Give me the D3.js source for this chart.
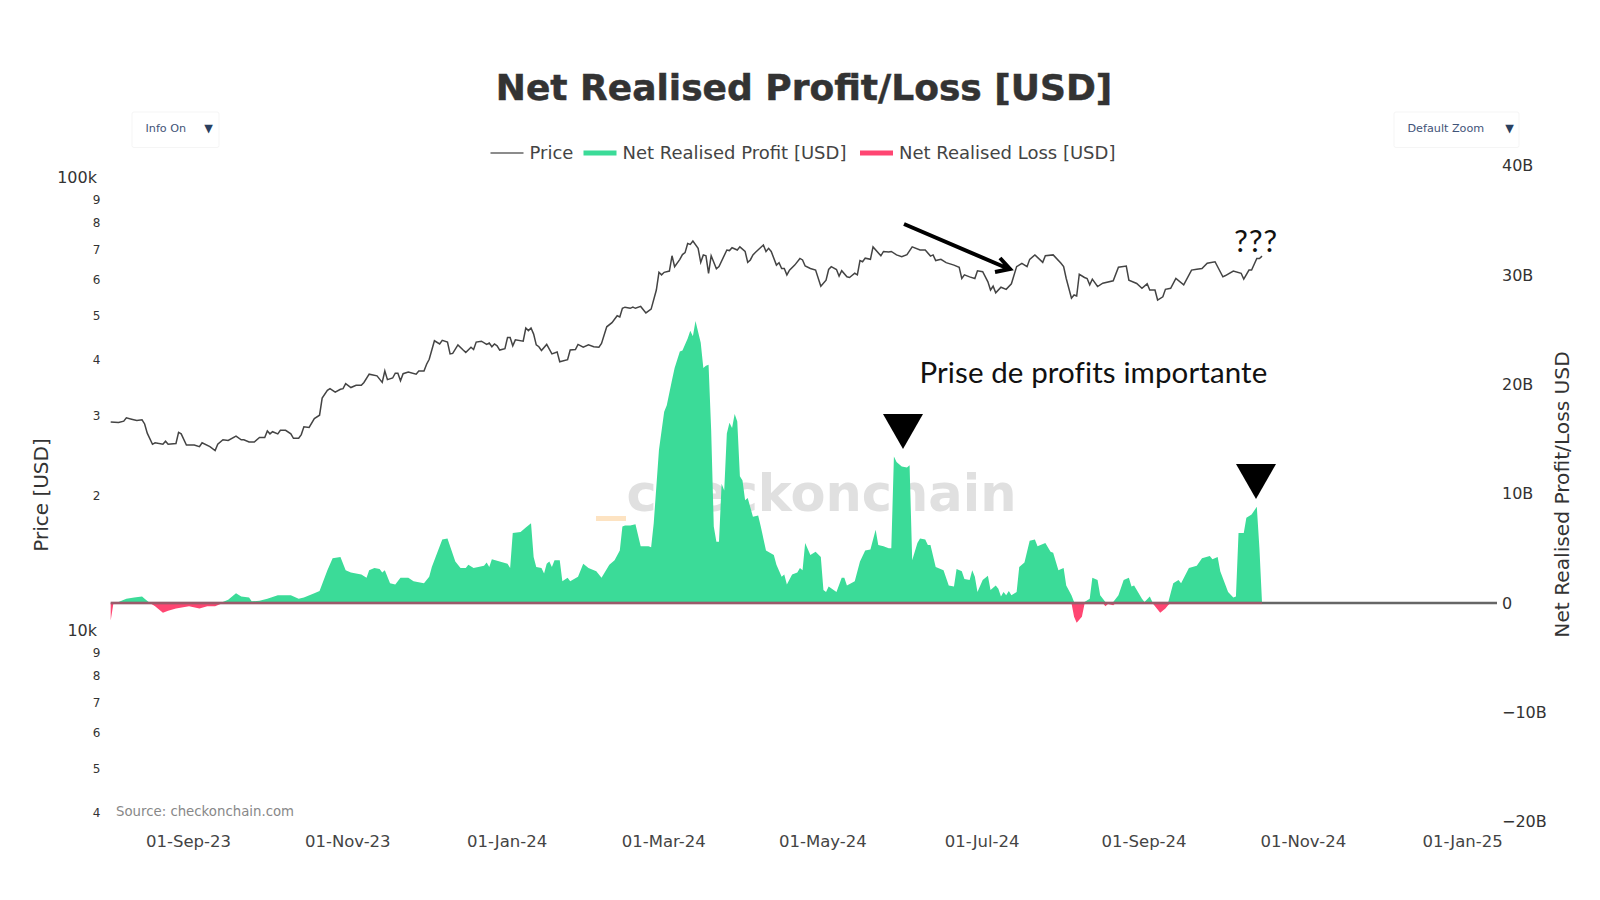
<!DOCTYPE html>
<html>
<head>
<meta charset="utf-8">
<script src="https://cdn.jsdelivr.net/npm/d3@7"></script>
<style>
body { margin: 0; background: #fff; }
text { font-family: "DejaVu Sans", sans-serif; }
</style>
</head>
<body>
<div id="chart"></div>
<script>
// days are counted from the first day of the series
var startDate = new Date(Date.UTC(2023, 7, 2));
var endDate = new Date(Date.UTC(2025, 0, 14));

var priceDays = [0,3,5,6,8,10,12,13,14,16,17,20,21,22,25,26,27,29,32,34,35,38,40,41,43,45,48,50,51,53,55,57,59,60,61,62,64,65,67,69,70,72,73,74,76,78,80,81,83,84,86,88,89,90,92,94,96,97,99,102,104,105,106,108,109,110,111,112,114,117,118,120,121,122,124,126,127,129,130,131,133,135,136,138,139,140,142,144,145,146,147,148,149,151,152,153,154,155,158,159,160,161,162,163,164,165,167,169,171,172,175,176,178,179,181,183,185,187,188,190,192,194,195,196,197,199,200,201,203,205,207,209,210,211,212,214,215,216,218,219,220,221,222,223,225,226,227,228,229,230,232,233,236,237,238,240,241,243,244,245,246,247,250,251,252,253,255,256,257,258,259,260,262,264,265,266,268,270,272,274,275,276,278,279,280,282,283,285,286,287,288,289,291,292,295,296,298,299,301,303,305,307,310,312,314,315,316,318,320,323,325,326,327,329,331,332,334,336,337,338,339,341,343,345,347,349,351,352,354,357,358,361,364,365,366,368,369,370,371,373,374,375,376,378,380,384,386,389,390,393,395,397,398,400,401,403,404,406,408,411,414,416,418,420,423,426,427,430,433,434,436,437,439,440,441];
var priceValues = [28800,28700,28900,29400,29200,29000,29100,28500,27200,25700,25900,25700,26100,25700,25800,27300,27100,25600,25600,25400,25900,25400,24900,25700,26300,26200,26800,26300,26300,26000,26000,26600,26600,27500,27100,27400,27100,27600,27600,27100,26500,26500,27000,28100,28000,29300,29800,32500,33800,34100,33500,34000,34100,35000,34300,34700,34700,35200,36700,36400,35200,37300,35700,36000,36900,36900,35500,36800,37100,36700,37300,37300,38600,39600,43500,42800,43600,43200,40700,40800,42600,41500,41000,42100,41600,43200,43400,42700,43000,42200,42800,42400,41500,41800,44200,44200,42400,43700,43400,46400,45800,46400,45000,42600,42200,41400,42700,40700,41100,39100,39500,41500,41600,42700,42100,42600,42200,42100,42900,46700,47700,49400,49100,51300,51600,51300,51600,51300,51800,50100,51100,56300,61600,60800,61600,62000,67000,63400,65800,67400,68100,71300,71000,72200,69600,64800,67300,67000,61300,67000,62700,63400,69000,68800,69800,69000,70100,68500,64800,65600,67300,68200,70800,68500,69600,68500,63900,64700,62800,62800,60800,62300,63900,66100,65600,63600,62800,62300,57400,59200,62500,63400,62500,60400,62100,60200,60000,61300,60800,65400,65000,66200,65800,70100,67000,68500,68300,68500,67300,66700,67400,70100,69000,69000,66900,67300,65400,65800,64700,63900,63200,59700,60800,60200,59700,62100,61800,58700,56300,57400,55500,57100,56500,58100,63400,64500,63400,65800,67300,64800,67000,67300,64500,63400,59700,54000,54900,54600,61000,60000,59700,57800,59500,57300,58300,59000,63200,63600,59200,58200,56800,58100,56300,56300,53500,54400,56500,56800,59700,57800,62300,62600,62800,64500,65000,60200,60600,62000,61300,59500,62300,62300,66100,66100,66900];

// profit and loss in billions of USD
var profitDays = [0,3,6,9,12,13,15,42,45,48,50,53,54,57,60,64,69,72,74,78,80,83,85,88,90,92,96,98,99,101,103,104,105,107,109,111,114,116,120,122,123,127,129,130,132,134,136,137,139,143,144,145,146,149,152,153,154,157,159,161,162,163,165,166,167,168,169,170,172,173,175,176,179,181,183,186,188,191,193,195,196,197,199,201,203,206,207,208,210,212,213,215,216,218,219,221,222,223,224,226,227,228,229,230,231,232,233,234,235,236,237,238,239,240,241,242,243,244,246,248,249,251,254,255,257,258,259,261,263,264,265,266,268,270,272,273,274,275,278,280,281,282,285,287,289,291,293,294,296,298,299,300,301,303,305,306,307,309,310,312,313,314,316,319,321,323,324,326,327,329,330,331,332,334,336,337,339,340,341,342,343,344,345,347,348,350,352,354,355,358,360,361,363,365,366,368,369,373,375,376,378,379,381,384,386,388,390,391,392,395,396,398,399,405,407,409,410,413,416,418,421,422,424,425,428,430,431,432,434,435,437,439,440,441];
var profitValues = [0,0.1,0.4,0.5,0.6,0.4,0,0,0.3,0.9,0.6,0.5,0.15,0.2,0.4,0.7,0.7,0.4,0.5,0.9,1.1,3.0,4.1,4.2,3.0,2.8,2.6,2.3,3.0,3.2,3.1,2.8,3.0,1.8,1.7,2.3,2.3,2.0,1.8,2.4,3.3,5.8,5.9,5.2,3.8,3.2,3.2,3.5,3.2,3.4,3.7,3.3,4.0,3.8,3.6,3.2,6.4,6.5,6.9,7.3,4.2,3.3,3.2,2.7,3.6,3.8,3.3,3.9,3.9,2.0,2.3,2.0,2.4,3.6,3.2,2.9,2.3,3.5,3.9,4.8,7.0,7.1,7.1,7.2,5.2,5.2,5.1,7.3,14.0,17.5,18.1,20.4,21.5,23.0,23.1,24.2,24.9,24.4,25.8,23.8,21.5,21.7,21.8,15.8,7.0,5.6,5.6,10.9,10.3,15.5,16.5,16.0,17.3,16.6,11.6,11.2,9.4,9.6,7.9,8.0,7.0,4.8,4.4,3.5,2.4,2.6,1.7,2.6,2.8,3.2,3.0,5.5,4.4,4.7,4.2,1.2,1.0,1.5,1.0,2.3,2.3,1.6,2.0,3.8,4.8,4.9,6.7,5.3,5.2,5.0,5.0,13.4,12.9,12.5,12.4,12.6,3.9,5.5,5.9,5.8,5.3,5.3,3.3,3.0,1.6,1.5,3.1,2.9,2.2,2.1,3.0,2.4,1.0,2.1,2.5,1.2,1.6,1.3,0.6,1.0,0.7,1.1,0.7,1.0,3.3,3.7,5.7,5.8,5.2,5.5,4.7,4.6,3.0,3.2,1.6,0.7,0.1,0.1,0.4,2.3,2.1,0.7,0.1,0.1,0.7,2.1,2.3,1.5,1.6,0.4,0.1,0.6,0.1,0,1.8,2.1,1.8,3.2,3.4,4.1,4.3,4.0,4.2,2.9,1.0,0.5,0.6,6.4,6.4,7.8,8.1,8.8,5.0,0];
var lossDays = [0,1,15,17,20,22,25,30,34,37,40,43,368,369,370,372,373,380,381,382,384,385,399,402,404,405,406,441];
var lossValues = [-1.6,-0.1,0,-0.3,-0.9,-0.7,-0.5,-0.3,-0.5,-0.3,-0.3,0,0,-1.25,-1.8,-1.25,-0.1,0,-0.3,-0.1,-0.2,0,0,-0.9,-0.5,-0.2,0,0];

var dateTicks = ["2023-09-01","2023-11-01","2024-01-01","2024-03-01","2024-05-01","2024-07-01","2024-09-01","2024-11-01","2025-01-01"];
var priceTicks = [100000,90000,80000,70000,60000,50000,40000,30000,20000,10000,9000,8000,7000,6000,5000,4000];
var priceLabels = ["100k","9","8","7","6","5","4","3","2","10k","9","8","7","6","5","4"];
var profitTicks = [40,30,20,10,0,-10,-20];
var profitLabels = ["40B","30B","20B","10B","0","\u221210B","\u221220B"];
var legendNames = ["Price","Net Realised Profit [USD]","Net Realised Loss [USD]"];

var width = 1600, height = 900;
var svg = d3.select("#chart").append("svg")
    .attr("width", width)
    .attr("height", height);

var x = d3.scaleUtc().domain([startDate, endDate]).range([110.7, 1497]);
var yPrice = d3.scaleLog().domain([10000, 100000]).range([630, 177]);
var yProfit = d3.scaleLinear().domain([-20, 40]).range([821.6, 165.8]);

function toDate(day) { return d3.utcDay.offset(startDate, day); }
function zip(days, values) {
  return days.map(function(d, i) { return {date: toDate(d), value: values[i]}; });
}

// watermark sits under the data
svg.append("text")
    .attr("x", 821.5).attr("y", 511)
    .attr("text-anchor", "middle")
    .style("font-size", "51px")
    .style("font-weight", "bold")
    .style("fill", "#e0e0e0")
    .text("checkonchain");

svg.append("line")
    .attr("x1", 596).attr("x2", 626)
    .attr("y1", 518.5).attr("y2", 518.5)
    .style("stroke", "#fde3c2")
    .style("stroke-width", 5);

var profitArea = d3.area()
    .x(function(d) { return x(d.date); })
    .y0(yProfit(0))
    .y1(function(d) { return yProfit(d.value); });

svg.append("path")
    .datum(zip(profitDays, profitValues))
    .attr("d", profitArea)
    .style("fill", "#3bdb98");

svg.append("path")
    .datum(zip(lossDays, lossValues))
    .attr("d", profitArea)
    .style("fill", "#ff4672");

// zero line, grey past the data and pinkish under it
svg.append("line")
    .attr("x1", x.range()[0]).attr("x2", x.range()[1])
    .attr("y1", yProfit(0)).attr("y2", yProfit(0))
    .style("stroke", "#666")
    .style("stroke-width", 2.6);
svg.append("line")
    .attr("x1", x.range()[0]).attr("x2", x(toDate(441)))
    .attr("y1", yProfit(0)).attr("y2", yProfit(0))
    .style("stroke", "#ff4672")
    .style("stroke-opacity", 0.35)
    .style("stroke-width", 2.6);

var priceLine = d3.line()
    .x(function(d) { return x(d.date); })
    .y(function(d) { return yPrice(d.value); });

svg.append("path")
    .datum(zip(priceDays, priceValues))
    .attr("d", priceLine)
    .style("fill", "none")
    .style("stroke", "#444")
    .style("stroke-width", 1.5);

// axes
var xAxis = svg.append("g")
    .attr("transform", "translate(-1,841.5)")
    .call(d3.axisBottom(x)
      .tickValues(dateTicks.map(function(d) { return new Date(d + "T00:00:00Z"); }))
      .tickFormat(d3.utcFormat("%d-%b-%y"))
      .tickSize(0).tickPadding(0));
xAxis.select(".domain").remove();
xAxis.selectAll("text")
    .attr("y", 0).attr("dy", "0.35em")
    .style("font-size", "16.5px")
    .style("font-family", "DejaVu Sans")
    .style("fill", "#444");

var leftAxis = svg.append("g")
    .attr("transform", "translate(97,0)")
    .call(d3.axisLeft(yPrice)
      .tickValues(priceTicks)
      .tickFormat(function(d, i) { return priceLabels[i]; })
      .tickSize(0).tickPadding(0));
leftAxis.select(".domain").remove();
leftAxis.selectAll("text")
    .style("font-family", "DejaVu Sans")
    .style("fill", "#333")
    .style("font-size", function(d, i) { return priceLabels[i].length > 1 ? "16px" : "12px"; })
    .attr("dy", function(d, i) { return priceLabels[i].length > 1 ? "0.35em" : "0.5em"; })
    .attr("x", function(d, i) { return priceLabels[i].length > 1 ? 0 : 3.5; });

var rightAxis = svg.append("g")
    .attr("transform", "translate(1502,0)")
    .call(d3.axisRight(yProfit)
      .tickValues(profitTicks)
      .tickFormat(function(d, i) { return profitLabels[i]; })
      .tickSize(0).tickPadding(0));
rightAxis.select(".domain").remove();
rightAxis.selectAll("text")
    .style("font-family", "DejaVu Sans")
    .style("font-size", "16px")
    .style("fill", "#333");

// titles
svg.append("text")
    .attr("x", 804).attr("y", 100)
    .attr("text-anchor", "middle")
    .style("font-size", "36px")
    .style("font-weight", "bold")
    .style("fill", "#333")
    .style("stroke", "#333")
    .style("stroke-width", 0.5)
    .text("Net Realised Profit/Loss [USD]");

svg.append("text")
    .attr("transform", "translate(47.5,495) rotate(-90)")
    .attr("text-anchor", "middle")
    .style("font-size", "20px")
    .style("fill", "#333")
    .text("Price [USD]");

svg.append("text")
    .attr("transform", "translate(1568.5,494.5) rotate(-90)")
    .attr("text-anchor", "middle")
    .style("font-size", "20.2px")
    .style("fill", "#333")
    .text("Net Realised Profit/Loss USD");

svg.append("text")
    .attr("x", 116).attr("y", 816)
    .style("font-size", "13.3px")
    .style("fill", "#888")
    .text("Source: checkonchain.com");

// legend
var legendX = [490.5, 583.5, 860];
var legendColors = ["#666", "#3bdb98", "#ff4672"];
var legendWeights = [1.5, 5, 5];
var legend = svg.selectAll(".legend-item")
    .data(legendNames)
    .enter().append("g")
    .attr("class", "legend-item")
    .attr("transform", function(d, i) { return "translate(" + legendX[i] + ",153)"; });
legend.append("line")
    .attr("x1", 0).attr("x2", 33)
    .style("stroke", function(d, i) { return legendColors[i]; })
    .style("stroke-width", function(d, i) { return legendWeights[i]; });
legend.append("text")
    .attr("x", 39).attr("dy", "0.35em")
    .style("font-size", "18px")
    .style("fill", "#444")
    .text(function(d) { return d; });

// dropdown buttons
var menus = [
  {label: "Info On", x: 132, w: 87, tx: 145.5, ax: 208.5},
  {label: "Default Zoom", x: 1394, w: 125, tx: 1407.5, ax: 1509.5}
];
var menu = svg.selectAll(".menu").data(menus).enter().append("g").attr("class", "menu");
menu.append("rect")
    .attr("x", function(d) { return d.x; })
    .attr("y", 112)
    .attr("width", function(d) { return d.w; })
    .attr("height", 35.5)
    .attr("rx", 2)
    .style("fill", "#fff")
    .style("stroke", "#f5f5f5");
menu.append("text")
    .attr("x", function(d) { return d.tx; })
    .attr("y", 128.5)
    .attr("dy", "0.35em")
    .style("font-size", "11.2px")
    .style("fill", "#3f5478")
    .text(function(d) { return d.label; });
menu.append("text")
    .attr("x", function(d) { return d.ax; })
    .attr("y", 128.5)
    .attr("dy", "0.35em")
    .attr("text-anchor", "middle")
    .style("font-size", "11.2px")
    .style("fill", "#2a3f5f")
    .text("\u25BC");

// annotations drawn on top of the chart
var noteFont = "Lato";
svg.append("text")
    .attr("x", 919.5).attr("y", 383)
    .style("font-family", noteFont)
    .style("font-size", "29.5px")
    .style("letter-spacing", "0.1px")
    .style("fill", "#111")
    .text("Prise de profits importante");
svg.append("text")
    .attr("x", 1234).attr("y", 252)
    .style("font-family", noteFont)
    .style("font-size", "31px")
    .style("letter-spacing", "0.8px")
    .style("fill", "#111")
    .text("???");

var triangles = [[883, 923, 414, 449], [1236, 1276, 464, 499]];
svg.selectAll(".marker")
    .data(triangles)
    .enter().append("path")
    .attr("class", "marker")
    .attr("d", function(d) {
      return "M" + d[0] + "," + d[2] + "L" + d[1] + "," + d[2] + "L" + ((d[0] + d[1]) / 2) + "," + d[3] + "Z";
    })
    .style("fill", "#000");

svg.append("path")
    .attr("d", "M904,224L1009,269M1000,258L1010,269L995,272")
    .style("fill", "none")
    .style("stroke", "#000")
    .style("stroke-width", 4);
</script>
</body>
</html>
